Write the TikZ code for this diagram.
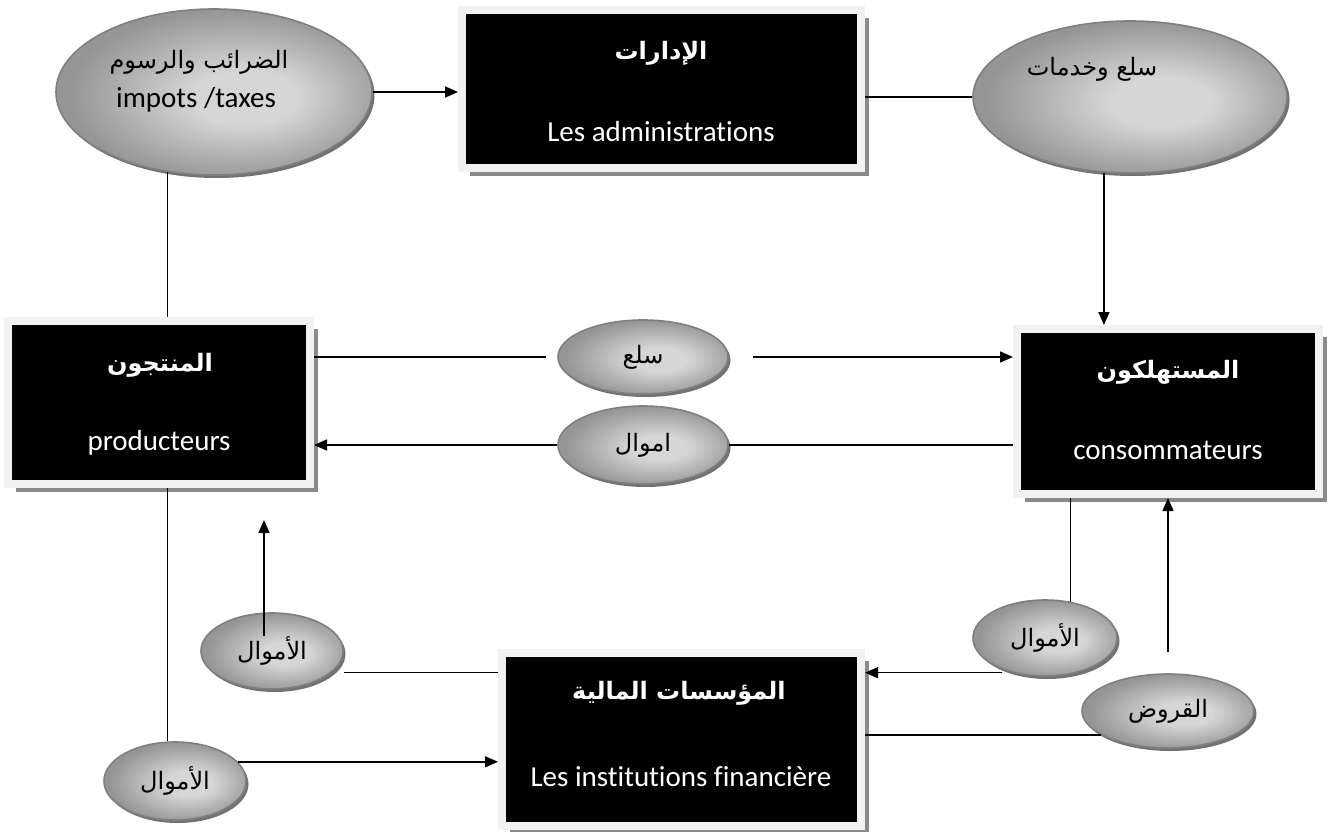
\documentclass[tikz,border=0pt]{standalone}
\usepackage{fontspec}
\newfontfamily\latinfont[Ligatures=NoCommon]{Carlito}
\newfontfamily\arabicfont[Script=Arabic]{DejaVu Sans}
\TeXXeTstate=1
\usetikzlibrary{shapes.geometric,shadows,arrows.meta,calc}

\definecolor{framegray}{HTML}{F2F2F2}
\definecolor{boxshadow}{HTML}{8A8A8A}
\definecolor{ovaledge}{HTML}{7F7F7F}
\definecolor{ovallight}{HTML}{D6D6D6}
\definecolor{ovaldark}{HTML}{959595}
\definecolor{ovalshadow}{HTML}{727272}

% grey oval fill: light spot slightly right of centre, darker rim
\pgfdeclareradialshading{ovalshade}{\pgfpoint{6bp}{-2bp}}{%
  color(0bp)=(ovallight); color(8bp)=(ovallight);
  color(26bp)=(ovaldark); color(50bp)=(ovaldark)}

\newcommand{\rl}[1]{\beginR #1\endR}

\begin{document}
\begin{tikzpicture}[x=1pt,y=-1pt,
  boxnode/.style={rectangle, fill=black, draw=framegray, line width=8pt,
    outer sep=4pt, inner sep=0pt,
    drop shadow={shadow xshift=8pt, shadow yshift=-8pt, fill=boxshadow, opacity=1}},
  oval/.style={ellipse, draw=ovaledge, line width=1.6pt, shading=ovalshade,
    inner sep=0pt, font=\arabicfont\fontsize{24}{28}\selectfont,
    drop shadow={shadow xshift=2.5pt, shadow yshift=-3pt, fill=ovalshadow, opacity=1}},
  titletxt/.style={text=white, inner sep=0pt,
    font=\arabicfont\bfseries\fontsize{24}{28}\selectfont},
  subtxt/.style={text=white, inner sep=0pt,
    font=\latinfont\fontsize{29}{34}\selectfont},
  ovaltxt/.style={text=black, inner sep=0pt,
    font=\arabicfont\fontsize{24}{28}\selectfont},
  ovallatin/.style={text=black, inner sep=0pt,
    font=\latinfont\fontsize{29}{34}\selectfont},
  conn/.style={line width=1.5pt, draw=black},
  arr/.style={conn, -{Triangle[length=13pt,width=11pt]}},
]
\fill[white] (0,0) rectangle (1331,832);
\useasboundingbox (0,0) rectangle (1331,832);

% ---- the four actors ----
\node[boxnode, minimum width=399pt, minimum height=158pt] (adm)  at (661.5,89)  {};
\node[boxnode, minimum width=302pt, minimum height=163pt] (prod) at (159,402.5) {};
\node[boxnode, minimum width=302pt, minimum height=165pt] (cons) at (1168,411.5) {};
\node[boxnode, minimum width=359pt, minimum height=173pt] (fin)  at (681.5,739.5) {};

\node[titletxt] (admT)  at (661,53)  {\rl{الإدارات}};
\node[subtxt]   (admS)  at (661,132) {Les administrations};
\node[titletxt] (prodT) at (160,365) {\rl{المنتجون}};
\node[subtxt]   (prodS) at (159,443) {producteurs};
\node[titletxt] (consT) at (1168,372) {\rl{المستهلكون}};
\node[subtxt]   (consS) at (1168,450) {consommateurs};
\node[titletxt] (finT)  at (679,693) {\rl{المؤسسات المالية}};
\node[subtxt]   (finS)  at (681,777) {Les institutions financière};

% ---- flows ----
\node[oval, minimum width=316pt, minimum height=166pt] (taxes)    at (214,92)   {};
\node[ovaltxt]   (taxesAr)  at (199,62)  {\rl{الضرائب والرسوم}};
\node[ovallatin] (taxesLat) at (196,100) {impots /taxes};

\node[oval, minimum width=314pt, minimum height=152pt] (services) at (1130,97)  {};
\node[ovaltxt] (servicesAr) at (1092,69) {\rl{سلع وخدمات}};

\node[oval, minimum width=170pt, minimum height=74pt] (goods)  at (643,357) {\rl{سلع}};
\node[oval, minimum width=170pt, minimum height=78pt] (money)  at (643,445) {\rl{اموال}};
\node[oval, minimum width=142pt, minimum height=76pt] (moneyB) at (272,651) {\rl{الأموال}};
\node[oval, minimum width=142pt, minimum height=78pt] (moneyC) at (175,781) {\rl{الأموال}};
\node[oval, minimum width=144pt, minimum height=76pt] (moneyD) at (1045,638) {\rl{الأموال}};
\node[oval, minimum width=172pt, minimum height=74pt] (loans)  at (1168,711) {\rl{القروض}};

\coordinate (prodIn) at (264,520);

% ---- connectors ----
\draw[arr]  (taxes.east) -- (taxes.east -| adm.west);
\draw[conn] (adm.east |- services.west) -- (services.west);
\draw[conn] (taxes.240) -- (taxes.240 |- prod.north);
\draw[arr]  (services.251) -- (services.251 |- cons.north);
\draw[conn, shorten >=11pt] (prod.east |- goods.west) -- (goods.west);
\draw[arr, shorten <=24pt]  (goods.east) -- (goods.east -| cons.west);
\draw[conn] (cons.west |- money.east) -- (money.east);
\draw[arr]  (money.west) -- (money.west -| prod.east);
\draw[conn] (taxes.240 |- prod.south) -- (taxes.240 |- moneyC.north);
\draw[arr]  (moneyC.17) -- (moneyC.17 -| fin.west);
\draw[arr]  ($(moneyB.north)+(-8,24)$) -- (prodIn);
\draw[conn] (moneyB.east |- fin.160) -- (fin.160);
\draw[arr]  ($(moneyD.west |- fin.20)+(30,0)$) -- (fin.20);
\draw[conn] (fin.east |- loans.200) -- (loans.200);
\draw[arr]  ($(loans.north)+(0,-21)$) -- (loans.north |- cons.south);
\draw[conn] (moneyD.55 |- cons.south) -- (moneyD.55);
\end{tikzpicture}
\end{document}
